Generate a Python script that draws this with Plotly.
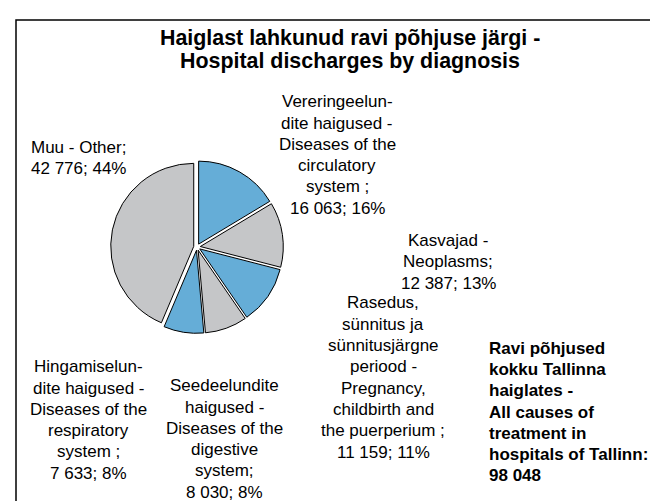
import plotly.graph_objects as go

# ---- data ----
slice_names = [
    "Vereringeelun-<br>dite haigused -<br>Diseases of the<br>circulatory<br>system ;",
    "Kasvajad -<br>Neoplasms;",
    "Rasedus,<br>sünnitus ja<br>sünnitusjärgne<br>periood -<br>Pregnancy,<br>childbirth and<br>the puerperium ;",
    "Seedeelundite<br>haigused -<br>Diseases of the<br>digestive<br>system;",
    "Hingamiselun-<br>dite haigused -<br>Diseases of the<br>respiratory<br>system ;",
    "Muu - Other;",
]
slice_values = [16063, 12387, 11159, 8030, 7633, 42776]
slice_colors = ["#65add7", "#c5c6c8", "#65add7", "#c5c6c8", "#65add7", "#c5c6c8"]
total_text = "Ravi põhjused<br>kokku Tallinna<br>haiglates -<br>All causes of<br>treatment in<br>hospitals of Tallinn:"
title_lines = ["Haiglast lahkunud ravi põhjuse järgi -", "Hospital discharges by diagnosis"]

# ---- layout constants (pixels) ----
W, H = 658, 501
PIE_CX, PIE_CY, PIE_R, PULL = 189, 239, 83, 0.04
label_pos = [(329, 147), (440, 254), (375, 369.5), (216, 431), (80.5, 412), (70, 150)]
PITCH = 21.3
FONT = "Liberation Sans, Arial, Helvetica, sans-serif"


def px(x):
    return x / W


def py(y):
    return 1 - y / H


def fmt(v):
    return f"{v:,}".replace(",", " ")


total = sum(slice_values)
half = PIE_R * (1 + PULL)

fig = go.Figure()
fig.add_trace(go.Pie(
    values=slice_values,
    sort=False,
    direction="clockwise",
    rotation=0,
    pull=PULL,
    textinfo="none",
    hoverinfo="skip",
    showlegend=False,
    marker=dict(colors=slice_colors, line=dict(color="black", width=1)),
    domain=dict(x=[px(PIE_CX - half), px(PIE_CX + half)],
                y=[py(PIE_CY + half), py(PIE_CY - half)]),
))

annotations = []


def add_block(lines, x, yc, anchor, size, bold=False):
    n = len(lines)
    for i, line in enumerate(lines):
        y = yc + (i - (n - 1) / 2) * PITCH
        annotations.append(dict(
            text=f"<b>{line}</b>" if bold else line,
            x=px(x), y=py(y), xref="paper", yref="paper",
            xanchor=anchor, yanchor="middle", showarrow=False,
            font=dict(family=FONT, size=size, color="black"),
        ))


for name, v, (x, y) in zip(slice_names, slice_values, label_pos):
    pct = round(100 * v / total)
    lines = name.split("<br>") + [f"{fmt(v)}; {pct}%"]
    add_block(lines, x, y, "center", 17)

add_block(total_text.split("<br>") + [fmt(total)], 479, 404, "left", 17, bold=True)

for i, t in enumerate(title_lines):
    annotations.append(dict(
        text=f"<b>{t}</b>", x=px(342), y=py(30 + 23 * i),
        xref="paper", yref="paper", xanchor="center", yanchor="middle",
        showarrow=False, font=dict(family=FONT, size=21.4, color="black"),
    ))

fig.update_layout(
    width=W, height=H,
    margin=dict(l=0, r=0, t=0, b=0),
    paper_bgcolor="white", plot_bgcolor="white",
    annotations=annotations,
    shapes=[dict(type="rect", xref="paper", yref="paper",
                 x0=px(8), x1=px(W + 20), y0=py(H + 20), y1=py(12),
                 line=dict(color="black", width=1.5))],
)

fig.write_html("out.html")
